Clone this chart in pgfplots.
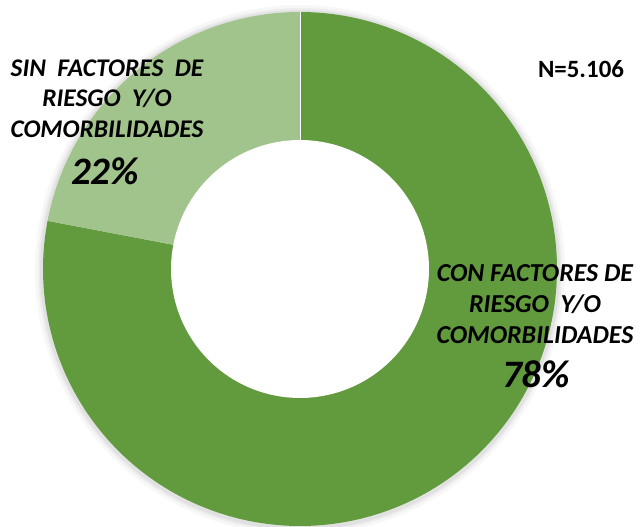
\documentclass[border=0pt]{standalone}
\usepackage{pgfplots}
\pgfplotsset{compat=1.18}
\usepackage{fontspec}
\setmainfont{Carlito}
\definecolor{dgreen}{HTML}{629A3E}
\definecolor{lgreen}{HTML}{A1C48C}
\begin{document}
\begin{tikzpicture}
\def\valA{78}% con factores
\def\valB{22}% sin factores
\def\cx{300}\def\cy{258}\def\R{257}\def\r{129}
\pgfmathsetmacro{\angA}{90-\valA/(\valA+\valB)*360}
\pgfmathsetmacro{\angB}{\angA-\valB/(\valA+\valB)*360}
\begin{axis}[
  width=642bp, height=527bp, scale only axis,
  xmin=0, xmax=642, ymin=0, ymax=527,
  hide axis, clip=false,
]
% soft shadow
\addplot[fill=black, fill opacity=0.03, draw=none, domain=0:360, samples=150]
  ({\cx+(\R+8)*cos(x)},{\cy-1+(\R+8)*sin(x)}) -- cycle;
\addplot[fill=black, fill opacity=0.04, draw=none, domain=0:360, samples=150]
  ({\cx+(\R+5)*cos(x)},{\cy-1+(\R+5)*sin(x)}) -- cycle;
\addplot[fill=black, fill opacity=0.05, draw=none, domain=0:360, samples=150]
  ({\cx+(\R+3)*cos(x)},{\cy-1+(\R+3)*sin(x)}) -- cycle;
% slice: con factores (78%)
\addplot[fill=dgreen, draw=none, domain=\angA:90, samples=200]
  ({\cx+\R*cos(x)},{\cy+\R*sin(x)}) -- (axis cs:\cx,\cy) -- cycle;
% slice: sin factores (22%)
\addplot[fill=lgreen, draw=none, domain=\angB:\angA, samples=80]
  ({\cx+\R*cos(x)},{\cy+\R*sin(x)}) -- (axis cs:\cx,\cy) -- cycle;
% separators
\addplot[white, line width=0.8bp] coordinates {(300,258) (300,515)};
% hole
\addplot[fill=white, draw=none, domain=0:360, samples=150]
  ({\cx+\r*cos(x)},{\cy+\r*sin(x)}) -- cycle;

\node[anchor=base, font=\fontsize{25.5}{31}\selectfont\bfseries\itshape]
  at (axis cs:107,450) {SIN\ \ FACTORES\ \ DE};
\node[anchor=base, font=\fontsize{25.5}{31}\selectfont\bfseries\itshape]
  at (axis cs:107,420) {RIESGO\ \ Y/O};
\node[anchor=base, font=\fontsize{25.5}{31}\selectfont\bfseries\itshape]
  at (axis cs:107,389) {COMORBILIDADES};
\node[anchor=base, font=\fontsize{39}{44}\selectfont\bfseries\itshape]
  at (axis cs:105,342) {22\%};

\node[anchor=base, font=\fontsize{26}{31}\selectfont\bfseries\itshape]
  at (axis cs:535,245) {CON FACTORES DE};
\node[anchor=base, font=\fontsize{26}{31}\selectfont\bfseries\itshape]
  at (axis cs:535,214) {RIESGO\ \ Y/O};
\node[anchor=base, font=\fontsize{26}{31}\selectfont\bfseries\itshape]
  at (axis cs:535,183) {COMORBILIDADES};
\node[anchor=base, font=\fontsize{39}{44}\selectfont\bfseries\itshape]
  at (axis cs:536,139) {78\%};

\node[anchor=base, font=\fontsize{25}{31}\selectfont\bfseries]
  at (axis cs:581,449) {N=5.106};
\end{axis}
\pgfresetboundingbox
\useasboundingbox (current axis.south west) rectangle (current axis.north east);
\end{tikzpicture}
\end{document}
